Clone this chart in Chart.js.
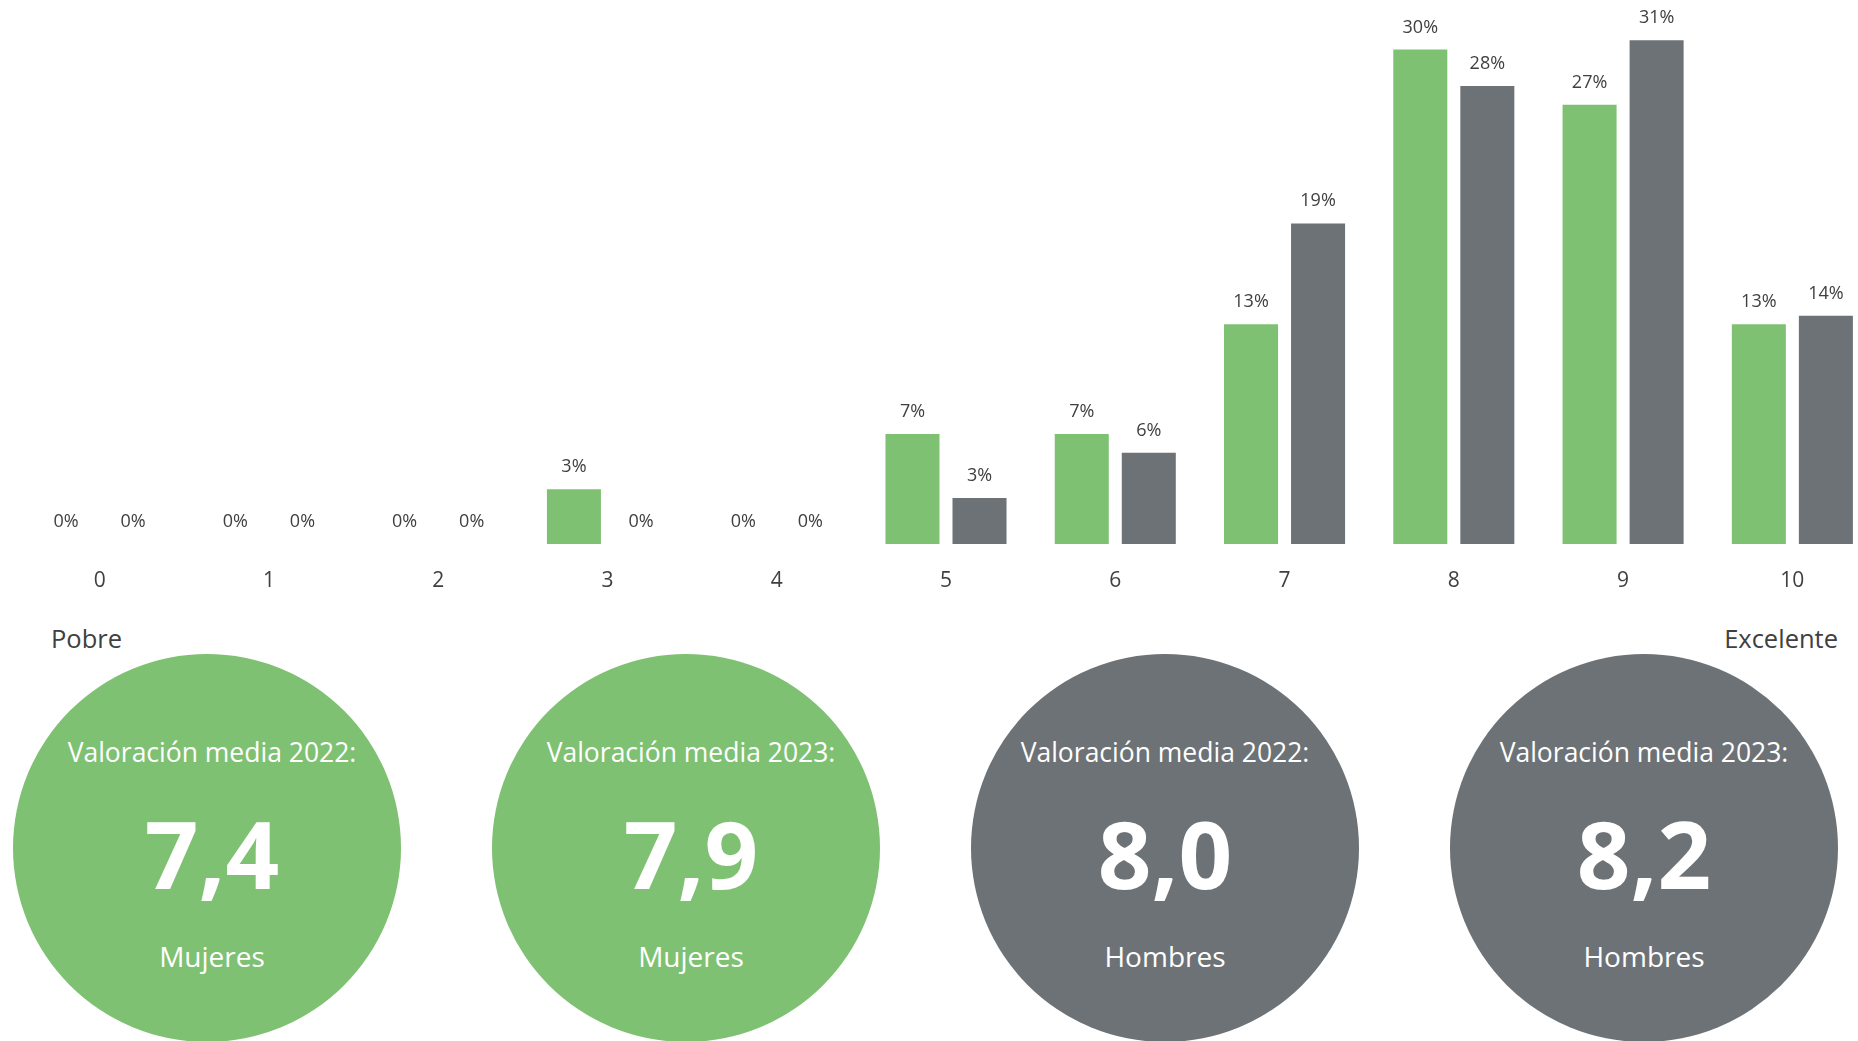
<!DOCTYPE html>
<html>
<head>
<meta charset="utf-8">
<script src="https://cdn.jsdelivr.net/npm/chart.js@4.4.0/dist/chart.umd.min.js"></script>
<style>
  html, body { margin: 0; padding: 0; background: #fff; width: 1858px; height: 1041px; overflow: hidden; position: relative; font-family: "Open Sans", "Noto Sans", sans-serif; }
  #wrap { position: absolute; left: 15px; top: 0; width: 1862px; height: 600px; }
  .t { position: absolute; line-height: 1; white-space: nowrap; color: #404040; }
  .circle { position: absolute; border-radius: 50%; }
  .ct { position: absolute; width: 100%; text-align: center; line-height: 1; color: #fff; white-space: nowrap; }
</style>
</head>
<body>
<div id="wrap"><canvas id="c" width="1862" height="600"></canvas></div>
<div id="extras"></div>
<script>
// ---- data ----
const categories = ['0', '1', '2', '3', '4', '5', '6', '7', '8', '9', '10'];
const mujeresValues = [0, 0, 0, 3.36, 0, 6.75, 6.75, 13.48, 30.33, 26.95, 13.48];
const hombresValues = [0, 0, 0, 0, 0, 2.82, 5.6, 19.67, 28.1, 30.9, 14.0];
const mujeresLabels = ['0%', '0%', '0%', '3%', '0%', '7%', '7%', '13%', '30%', '27%', '13%'];
const hombresLabels = ['0%', '0%', '0%', '0%', '0%', '3%', '6%', '19%', '28%', '31%', '14%'];
const scaleLabels = ['Pobre', 'Excelente'];
const circleTitles = ['Valoración media 2022:', 'Valoración media 2023:', 'Valoración media 2022:', 'Valoración media 2023:'];
const circleValues = ['7,4', '7,9', '8,0', '8,2'];
const circleGroups = ['Mujeres', 'Mujeres', 'Hombres', 'Hombres'];

const GREEN = '#7fc172';
const GRAY = '#6d7276';
const TEXT = '#404040';
const FONT = '"Open Sans", "Noto Sans", sans-serif';

const valueLabelPlugin = {
  id: 'valueLabels',
  afterDatasetsDraw(chart) {
    const ctx = chart.ctx;
    const sets = [mujeresLabels, hombresLabels];
    ctx.save();
    ctx.font = '18px ' + FONT;
    ctx.fillStyle = TEXT;
    ctx.textAlign = 'center';
    ctx.textBaseline = 'alphabetic';
    chart.data.datasets.forEach((ds, di) => {
      const meta = chart.getDatasetMeta(di);
      meta.data.forEach((bar, i) => {
        ctx.fillText(sets[di][i], bar.x, bar.y - 17);
      });
    });
    ctx.restore();
  }
};

new Chart(document.getElementById('c'), {
  type: 'bar',
  data: {
    labels: categories,
    datasets: [
      { label: 'Mujeres', data: mujeresValues, backgroundColor: GREEN, barPercentage: 0.806, categoryPercentage: 0.792 },
      { label: 'Hombres', data: hombresValues, backgroundColor: GRAY, barPercentage: 0.806, categoryPercentage: 0.792 }
    ]
  },
  options: {
    responsive: false,
    devicePixelRatio: 1,
    animation: false,
    layout: { padding: 0 },
    plugins: { legend: { display: false }, tooltip: { enabled: false } },
    scales: {
      y: { display: false, min: 0, max: 544 / 16.3 },
      x: {
        grid: { display: false, drawTicks: false },
        border: { display: false },
        ticks: { color: TEXT, font: { family: FONT, size: 21 }, padding: 24, maxRotation: 0 },
        afterFit(scale) { scale.height = 56; }
      }
    }
  },
  plugins: [valueLabelPlugin]
});

// ---- scale end labels and summary circles ----
const ex = document.getElementById('extras');
function addText(parent, cls, text, styles) {
  const d = document.createElement('div');
  d.className = cls;
  d.textContent = text;
  Object.assign(d.style, styles);
  parent.appendChild(d);
  return d;
}
addText(ex, 't', scaleLabels[0], { left: '51px', top: (640 - 0.53 * 25.5) + 'px', fontSize: '25.5px' });
addText(ex, 't', scaleLabels[1], { right: '20px', top: (640 - 0.53 * 25.5) + 'px', fontSize: '25.5px' });

const circleCx = [207, 686, 1165, 1644];
const textShift = [5, 5, 0, 0];
const circleColors = [GREEN, GREEN, GRAY, GRAY];
const R = 194, CY = 848;
circleCx.forEach((cx, i) => {
  const c = document.createElement('div');
  c.className = 'circle';
  Object.assign(c.style, { left: (cx - R) + 'px', top: (CY - R) + 'px', width: (2 * R) + 'px', height: (2 * R) + 'px', background: circleColors[i] });
  ex.appendChild(c);
  const l = textShift[i] + 'px';
  addText(c, 'ct', circleTitles[i], { left: l, top: (R - 95 - 0.53 * 26.5) + 'px', fontSize: '26.5px' });
  addText(c, 'ct', circleValues[i], { left: l, top: (R + 8 - 0.53 * 94) + 'px', fontSize: '94px', fontWeight: '700' });
  addText(c, 'ct', circleGroups[i], { left: l, top: (R + 109 - 0.53 * 28) + 'px', fontSize: '28px' });
});
</script>
</body>
</html>
